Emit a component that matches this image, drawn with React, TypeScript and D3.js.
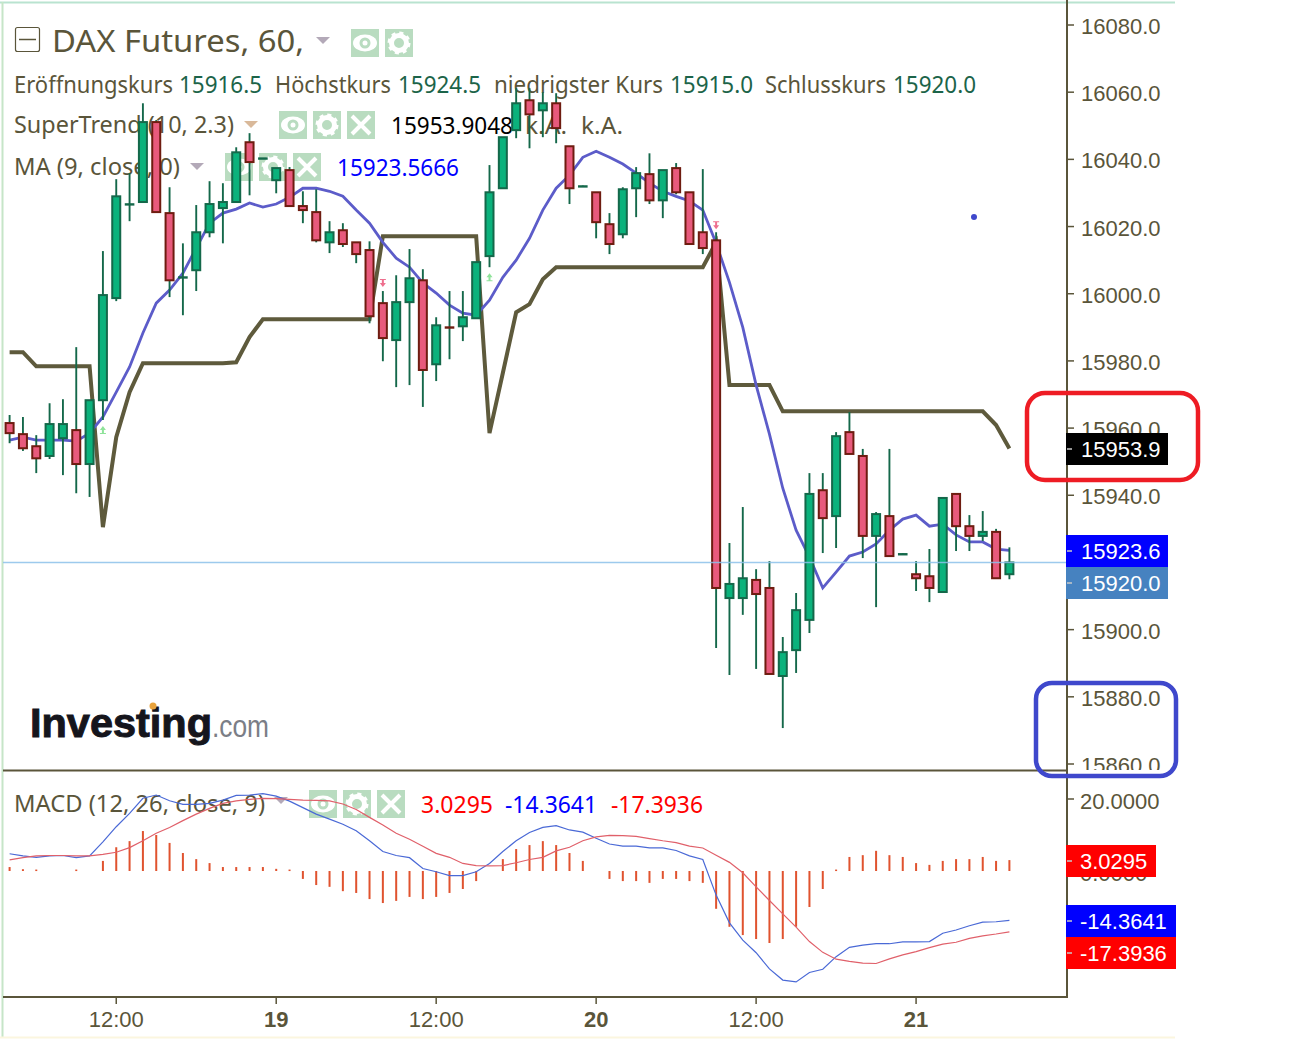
import React, { useEffect, useRef } from "react";
import * as d3 from "d3";

const WIDTH = 1301;
const HEIGHT = 1039;

const open = [15961.5, 15958.2, 15954.6, 15951.7, 15957.0, 15959.4, 15949.3, 15968.3, 15998.7, 16026.5, 16027.3, 16051.1, 16024.0, 16004.6, 16007.0, 16018.3, 16025.5, 16027.3, 16045.1, 16040.2, 16033.8, 16036.8, 16026.1, 16024.3, 16015.3, 16018.9, 16015.3, 16013.0, 15997.2, 15986.2, 15997.5, 16004.0, 15979.0, 15990.3, 15990.3, 15992.7, 16011.2, 16031.4, 16048.7, 16057.6, 16054.6, 16056.7, 16043.9, 16031.8, 16030.2, 16020.7, 16017.7, 16031.4, 16035.6, 16027.8, 16037.4, 16030.2, 16018.3, 16015.9, 15909.4, 15909.4, 15914.8, 15912.4, 15886.2, 15893.9, 15902.9, 15941.5, 15933.8, 15958.8, 15951.7, 15927.9, 15933.8, 15922.3, 15916.5, 15915.9, 15911.2, 15940.4, 15930.8, 15927.9, 15929.1, 15916.5];
const high = [15963.9, 15963.3, 15957.9, 15967.4, 15968.6, 15984.1, 15968.3, 16012.7, 16034.1, 16035.9, 16056.7, 16051.7, 16031.7, 16015.0, 16026.4, 16033.5, 16032.9, 16043.6, 16047.8, 16040.4, 16037.4, 16037.7, 16030.5, 16031.1, 16021.6, 16021.0, 16015.3, 16015.6, 16000.8, 16005.5, 16013.3, 16007.3, 15993.0, 16000.8, 16000.8, 16009.4, 16038.3, 16046.6, 16061.2, 16061.2, 16060.0, 16059.7, 16043.9, 16032.2, 16030.2, 16024.0, 16031.7, 16037.7, 16041.8, 16036.8, 16038.9, 16030.2, 16037.1, 16018.3, 15925.8, 15936.5, 15918.0, 15920.4, 15897.8, 15910.9, 15946.6, 15946.6, 15958.8, 15964.8, 15953.8, 15935.0, 15953.8, 15922.7, 15920.4, 15924.0, 15939.2, 15940.4, 15934.1, 15935.3, 15930.0, 15924.5];
const low = [15955.5, 15953.2, 15946.6, 15950.8, 15946.0, 15940.6, 15939.5, 15962.4, 15997.8, 16021.6, 16027.3, 16024.3, 15999.0, 15993.6, 16000.8, 16016.8, 16015.0, 16027.3, 16029.3, 16040.2, 16029.9, 16026.1, 16021.0, 16015.3, 16012.1, 16013.9, 16009.1, 15991.2, 15979.9, 15972.2, 15972.8, 15966.3, 15974.0, 15980.5, 15985.9, 15992.7, 16007.9, 16031.4, 16046.3, 16043.3, 16046.6, 16044.8, 16026.7, 16031.8, 16016.5, 16011.8, 16016.5, 16022.8, 16026.7, 16022.5, 16029.6, 16014.8, 16011.8, 15894.5, 15886.5, 15904.4, 15888.3, 15886.8, 15870.7, 15887.1, 15899.0, 15922.8, 15924.3, 15952.3, 15921.3, 15906.7, 15921.9, 15922.3, 15911.5, 15908.2, 15911.2, 15923.4, 15923.4, 15926.4, 15915.3, 15915.0];
const close = [15958.5, 15954.0, 15951.0, 15961.2, 15961.2, 15949.3, 15968.3, 15999.6, 16029.0, 16026.8, 16051.1, 16024.3, 16004.0, 16005.2, 16018.3, 16026.7, 16027.3, 16042.1, 16039.2, 16040.4, 16037.4, 16026.1, 16024.9, 16015.9, 16018.3, 16014.8, 16011.8, 15993.3, 15986.8, 15997.5, 16004.6, 15977.3, 15990.6, 15989.7, 15993.0, 16009.4, 16030.2, 16046.6, 16056.7, 16053.4, 16056.7, 16049.3, 16031.4, 16032.2, 16021.3, 16014.8, 16031.1, 16035.9, 16027.8, 16036.8, 16030.2, 16014.8, 16013.6, 15912.4, 15913.6, 15915.3, 15910.6, 15886.8, 15893.3, 15905.8, 15940.4, 15933.2, 15957.6, 15952.3, 15927.9, 15934.4, 15921.9, 15922.7, 15915.3, 15912.4, 15939.2, 15930.8, 15927.9, 15929.1, 15915.3, 15920.0];

const maValues = [15956.4, 15957.3, 15956.4, 15956.4, 15956.4, 15956.1, 15958.5, 15963.3, 15970.7, 15978.2, 15988.3, 15997.2, 16001.1, 16006.1, 16013.6, 16021.0, 16024.0, 16025.2, 16027.0, 16025.8, 16026.7, 16028.7, 16031.4, 16031.4, 16030.5, 16029.0, 16024.9, 16021.0, 16015.3, 16010.6, 16007.9, 16003.2, 16000.2, 15996.6, 15994.2, 15993.6, 15998.1, 16004.9, 16010.0, 16016.5, 16024.9, 16031.4, 16035.3, 16040.6, 16042.4, 16040.6, 16038.6, 16035.9, 16032.9, 16030.5, 16029.0, 16027.6, 16024.9, 16015.0, 16003.4, 15990.0, 15972.8, 15958.2, 15942.1, 15929.6, 15921.6, 15912.4, 15917.1, 15921.9, 15923.1, 15925.5, 15929.6, 15932.9, 15934.1, 15930.8, 15931.4, 15928.2, 15926.1, 15926.1, 15924.0, 15923.6];

const superTrend = [15982.6, 15982.6, 15978.4, 15978.4, 15978.4, 15978.4, 15978.4, 15930.5, 15957.3, 15970.7, 15979.3, 15979.3, 15979.3, 15979.3, 15979.3, 15979.3, 15979.3, 15979.6, 15987.1, 15992.4, 15992.4, 15992.4, 15992.4, 15992.4, 15992.4, 15992.4, 15992.4, 15992.4, 16017.1, 16017.1, 16017.1, 16017.1, 16017.1, 16017.1, 16017.1, 16017.1, 15958.5, 15976.4, 15994.5, 15996.9, 16004.3, 16007.9, 16007.9, 16007.9, 16007.9, 16007.9, 16007.9, 16007.9, 16007.9, 16007.9, 16007.9, 16007.9, 16007.9, 16015.3, 15972.8, 15972.8, 15972.8, 15972.8, 15965.0, 15965.0, 15965.0, 15965.0, 15965.0, 15965.0, 15965.0, 15965.0, 15965.0, 15965.0, 15965.0, 15965.0, 15965.0, 15965.0, 15965.0, 15965.0, 15960.9, 15953.9];

const macdLine = [4.8, 4.2, 3.8, 4.2, 4.3, 3.7, 4.2, 8.1, 12.3, 16.0, 20.2, 21.1, 19.5, 18.5, 18.5, 18.8, 19.7, 21.0, 21.1, 21.5, 20.8, 19.4, 17.6, 15.8, 14.4, 13.0, 11.2, 8.4, 5.4, 4.3, 3.7, 0.7, -0.2, -1.3, -1.3, -0.2, 2.1, 5.4, 8.4, 10.7, 12.1, 12.6, 11.4, 10.8, 9.1, 7.5, 6.9, 6.9, 6.4, 6.4, 5.7, 4.2, 3.2, -6.7, -14.4, -19.2, -22.7, -27.2, -30.3, -30.8, -28.2, -27.3, -23.8, -21.2, -20.6, -20.2, -20.2, -19.7, -19.7, -19.6, -17.3, -16.4, -15.2, -14.2, -14.1, -13.7];
const signalLine = [3.1, 3.7, 4.2, 4.3, 4.3, 4.2, 4.2, 4.6, 5.2, 6.5, 8.4, 10.5, 12.1, 14.0, 15.8, 17.4, 18.8, 19.5, 19.9, 20.2, 20.1, 19.9, 19.7, 19.6, 19.5, 18.6, 17.1, 14.9, 12.8, 10.5, 8.8, 6.9, 4.9, 3.8, 2.1, 1.5, 1.4, 1.5, 2.3, 3.2, 3.8, 5.6, 6.6, 8.4, 9.5, 9.9, 9.8, 9.6, 9.0, 8.4, 7.9, 6.9, 6.4, 4.4, 2.4, -0.5, -4.4, -8.2, -11.9, -15.6, -19.6, -22.6, -24.5, -25.1, -25.6, -25.7, -24.4, -23.3, -22.4, -21.3, -20.3, -19.8, -18.7, -18.0, -17.5, -16.9];
const histogram = [1.1, 0.5, 0.4, 0, 0, 0.4, 0, 2.8, 6.6, 8.3, 11.1, 10.0, 7.8, 5.0, 3.3, 2.2, 1.1, 1.1, 1.1, 1.1, 0.6, 0.4, -2.2, -3.9, -4.4, -5.6, -6.1, -7.8, -8.9, -8.3, -7.2, -7.8, -7.2, -6.1, -5.0, -2.8, 0, 3.3, 6.1, 7.2, 8.3, 7.2, 5.0, 2.8, 0, -2.2, -2.8, -2.8, -3.3, -2.2, -2.2, -2.8, -3.3, -10.5, -15.5, -17.8, -18.9, -20.0, -18.9, -15.5, -10.0, -5.0, 0.4, 3.9, 4.4, 5.6, 4.4, 3.9, 2.2, 1.7, 2.8, 3.3, 3.3, 3.9, 2.8, 3.03];

const buySignals = [[7, 15959.4], [36, 16004.9]];
const sellSignals = [[28, 16003.2], [53, 16020.4]];

const priceTicks = [16080, 16060, 16040, 16020, 16000, 15980, 15960, 15940, 15900, 15880, 15860];
const macdTicks = [20, 0, -20];
const timeTicks = [8, 20, 32, 44, 56, 68];
const timeLabels = ["12:00", "19", "12:00", "20", "12:00", "21"];
const boldLabels = ["19", "20", "21"];

const INK = "#5a553a";
const VALUE = "#1c6449";
const UP = "#0bb27c";
const UP_DARK = "#14684a";
const DOWN = "#e85a7c";
const DOWN_DARK = "#6e1c10";
const ICON_BG = "#b9dcc0";
const SANS = "'Noto Sans', sans-serif";
const ARIAL = "'Liberation Sans', Arial, sans-serif";

type Sel = d3.Selection<any, any, any, any>;

function label(g: Sel, text: string, x: number, y: number, size: number, fill: string, width?: number, font = SANS) {
  const t = g.append("text").attr("x", x).attr("y", y).attr("font-family", font).attr("font-size", size).attr("fill", fill).text(text);
  if (width) t.attr("textLength", width).attr("lengthAdjust", "spacingAndGlyphs");
  return t;
}

function icon(g: Sel, kind: "eye" | "gear" | "x", x: number, y: number) {
  const c = g.append("g").attr("transform", `translate(${x},${y})`);
  c.append("rect").attr("width", 28).attr("height", 28).attr("fill", ICON_BG);
  if (kind === "eye") {
    c.append("ellipse").attr("cx", 14).attr("cy", 14).attr("rx", 12).attr("ry", 8.5).attr("fill", "#fff");
    c.append("circle").attr("cx", 14).attr("cy", 14).attr("r", 5.5).attr("fill", ICON_BG);
    c.append("circle").attr("cx", 14).attr("cy", 14).attr("r", 2.5).attr("fill", "#fff");
  } else if (kind === "gear") {
    c.append("circle").attr("cx", 14).attr("cy", 14).attr("r", 7.5).attr("fill", "none").attr("stroke", "#fff").attr("stroke-width", 5);
    c.append("circle").attr("cx", 14).attr("cy", 14).attr("r", 10).attr("fill", "none").attr("stroke", "#fff").attr("stroke-width", 3).attr("stroke-dasharray", "4 3.85");
  } else {
    c.append("path").attr("d", "M5,5L23,23M23,5L5,23").attr("stroke", "#fff").attr("stroke-width", 4);
  }
}

function triangle(g: Sel, x: number, y: number, fill: string) {
  g.append("path").attr("d", `M${x},${y}h14l-7,7z`).attr("fill", fill);
}

const App: React.FC = () => {
  const svgRef = useRef<SVGSVGElement | null>(null);

  useEffect(() => {
    const svgElement = svgRef.current;
    if (!svgElement) return;

    const svg = d3.select(svgElement);
    svg.selectAll("*").remove();

    const x = d3.scaleLinear().domain([0, 75]).range([9.6, 1009.4]);
    const y = d3.scaleLinear().domain([16080, 15860]).range([25, 764]);
    const yMacd = d3.scaleLinear().domain([20, -20]).range([799, 943]);

    svg.append("rect").attr("width", WIDTH).attr("height", HEIGHT).attr("fill", "#fff");
    svg.append("path").attr("d", "M0,2.5H1175").attr("stroke", "#b9e3d0").attr("stroke-width", 2);
    svg.append("path").attr("d", "M2.5,2V1037").attr("stroke", "#c6e5c8").attr("stroke-width", 2);
    svg.append("path").attr("d", "M0,1037.5H1175").attr("stroke", "#fbf6df").attr("stroke-width", 2);

    // legend sits under the candles
    const legend = svg.append("g");
    legend.append("rect").attr("x", 15.5).attr("y", 27.5).attr("width", 24).attr("height", 24).attr("rx", 2).attr("fill", "none").attr("stroke", INK).attr("stroke-width", 1.2);
    legend.append("path").attr("d", "M19,39.5H36").attr("stroke", INK).attr("stroke-width", 1.5);
    label(legend, "DAX Futures, 60,", 52, 52, 31, INK, 252);
    triangle(legend, 316, 37, "#b3a9b8");
    icon(legend, "eye", 351, 29);
    icon(legend, "gear", 385, 29);

    label(legend, "Eröffnungskurs", 14, 93, 23, INK, 159);
    label(legend, "15916.5", 179, 93, 23, VALUE, 83);
    label(legend, "Höchstkurs", 275, 93, 23, INK, 116);
    label(legend, "15924.5", 398, 93, 23, VALUE, 83);
    label(legend, "niedrigster Kurs", 494, 93, 23, INK, 169);
    label(legend, "15915.0", 670, 93, 23, VALUE, 83);
    label(legend, "Schlusskurs", 765, 93, 23, INK, 121);
    label(legend, "15920.0", 893, 93, 23, VALUE, 83);

    label(legend, "SuperTrend (10, 2.3)", 14, 133, 23, INK, 220);
    triangle(legend, 244, 121, "#d9b99a");
    icon(legend, "eye", 279, 111);
    icon(legend, "gear", 313, 111);
    icon(legend, "x", 347, 111);
    label(legend, "15953.9048", 391, 134, 23, "#000", 122);
    label(legend, "k.A.", 525, 134, 23, INK, 42);
    label(legend, "k.A.", 581, 134, 23, INK, 42);

    label(legend, "MA (9, close, 0)", 14, 175, 23, INK, 166);
    triangle(legend, 190, 163, "#b3a9b8");
    icon(legend, "eye", 225, 153);
    icon(legend, "gear", 259, 153);
    icon(legend, "x", 293, 153);
    label(legend, "15923.5666", 337, 176, 23, "#0000ff", 122);

    // logo
    label(legend, "Investing", 30, 737, 41, "#15151c", 182, ARIAL).attr("font-weight", "bold").attr("stroke", "#15151c").attr("stroke-width", 1);
    label(legend, ".com", 212, 737, 32, "#7b7e86", 57, ARIAL);
    legend.append("circle").attr("cx", 153).attr("cy", 706).attr("r", 3.5).attr("fill", "#e8a33d");

    const idx = d3.range(open.length);

    const lineOf = (values: number[], scale: d3.ScaleLinear<number, number>) =>
      d3.line<number>().x((i) => x(i)).y((i) => scale(values[i]))(idx);

    svg.append("path").attr("d", lineOf(superTrend, y)).attr("fill", "none").attr("stroke", "#5e5a3c").attr("stroke-width", 4);
    svg.append("path").attr("d", lineOf(maValues, y)).attr("fill", "none").attr("stroke", "#5c5cc9").attr("stroke-width", 2.8);

    // wicks, then bodies
    const candles = svg.append("g");
    idx.forEach((i) => {
      const isDoji = Math.abs(open[i] - close[i]) < 1;
      const isUp = close[i] >= open[i];
      candles.append("line").attr("x1", x(i)).attr("x2", x(i)).attr("y1", y(high[i])).attr("y2", y(low[i])).attr("stroke", UP_DARK).attr("stroke-width", 1.9);
      if (isDoji) {
        candles.append("rect").attr("x", x(i) - 4.8).attr("width", 9.6).attr("y", y((open[i] + close[i]) / 2) - 1).attr("height", 2.4).attr("fill", isUp ? UP_DARK : DOWN_DARK);
      } else {
        candles.append("rect")
          .attr("x", x(i) - 4)
          .attr("width", 8)
          .attr("y", y(Math.max(open[i], close[i])))
          .attr("height", Math.abs(y(open[i]) - y(close[i])))
          .attr("fill", isUp ? UP : DOWN)
          .attr("stroke", isUp ? UP_DARK : DOWN_DARK)
          .attr("stroke-width", 2);
      }
    });

    buySignals.forEach(([i, p]) => {
      svg.append("path").attr("transform", `translate(${x(i)},${y(p)})`).attr("d", "M0,-4L3,0H1V3H3V4H-3V3H-1V0H-3Z").attr("fill", "#8fe39a");
    });
    sellSignals.forEach(([i, p]) => {
      svg.append("path").attr("transform", `translate(${x(i)},${y(p)})`).attr("d", "M-3,-4H3V-3H1V0H3L0,4L-3,0H-1V-3H-3Z").attr("fill", "#ee6f8e");
    });

    svg.append("line").attr("x1", 3).attr("x2", 1066).attr("y1", y(15920)).attr("y2", y(15920)).attr("stroke", "#8cc1ea").attr("stroke-width", 1.4).attr("opacity", 0.85);
    svg.append("circle").attr("cx", 974).attr("cy", 217).attr("r", 3).attr("fill", "#3f48cc");

    // MACD pane
    label(svg, "MACD (12, 26, close, 9)", 14, 812, 23, INK, 251);
    triangle(svg, 274, 797, "#b3a9b8");
    icon(svg, "eye", 309, 790);
    icon(svg, "gear", 343, 790);
    icon(svg, "x", 377, 790);
    label(svg, "3.0295", 421, 813, 23, "#ff0000", 72);
    label(svg, "-14.3641", 505, 813, 23, "#0000ff", 92);
    label(svg, "-17.3936", 611, 813, 23, "#ff0000", 92);

    svg.append("g").selectAll("rect").data(idx.filter((i) => histogram[i] !== 0)).join("rect")
      .attr("x", (i) => x(i) - 1)
      .attr("width", 2)
      .attr("y", (i) => Math.min(yMacd(histogram[i]), yMacd(0)))
      .attr("height", (i) => Math.max(1.5, Math.abs(yMacd(histogram[i]) - yMacd(0))))
      .attr("fill", "#e0532f");
    svg.append("path").attr("d", lineOf(macdLine, yMacd)).attr("fill", "none").attr("stroke", "#4a69d6").attr("stroke-width", 1.2);
    svg.append("path").attr("d", lineOf(signalLine, yMacd)).attr("fill", "none").attr("stroke", "#e0606a").attr("stroke-width", 1.2);

    // axes
    const axis = svg.append("g").attr("stroke", INK);
    axis.append("path").attr("d", "M1067,0V997H3M3,770.5H1067").attr("fill", "none").attr("stroke-width", 2);

    svg.append("clipPath").attr("id", "price-clip").append("rect").attr("x", 1068).attr("y", 0).attr("width", 200).attr("height", 770);
    const priceAxis = svg.append("g").attr("clip-path", "url(#price-clip)");
    priceTicks.forEach((p) => {
      priceAxis.append("line").attr("x1", 1067).attr("x2", 1074).attr("y1", y(p)).attr("y2", y(p)).attr("stroke", INK).attr("stroke-width", 1.5);
      label(priceAxis, d3.format(".1f")(p), 1081, y(p) + 9, 22, INK, undefined, ARIAL);
    });
    macdTicks.forEach((v) => {
      svg.append("line").attr("x1", 1067).attr("x2", 1074).attr("y1", yMacd(v)).attr("y2", yMacd(v)).attr("stroke", INK).attr("stroke-width", 1.5);
      label(svg, d3.format(".4f")(v), 1080, yMacd(v) + 10, 22, INK, undefined, ARIAL);
    });
    timeTicks.forEach((t, i) => {
      svg.append("line").attr("x1", x(t)).attr("x2", x(t)).attr("y1", 997).attr("y2", 1004).attr("stroke", INK).attr("stroke-width", 1.5);
      label(svg, timeLabels[i], x(t), 1027, 22, INK, undefined, ARIAL)
        .attr("text-anchor", "middle")
        .attr("font-weight", boldLabels.includes(timeLabels[i]) ? "bold" : "normal");
    });

    // value tags on the axis
    const tag = (text: string, top: number, w: number, fill: string, tx: number) => {
      svg.append("rect").attr("x", 1066).attr("y", top).attr("width", w).attr("height", 32).attr("fill", fill);
      svg.append("line").attr("x1", 1067).attr("x2", 1072).attr("y1", top + 16).attr("y2", top + 16).attr("stroke", "#c9c9c9").attr("stroke-width", 1.5);
      label(svg, text, tx, top + 24, 22, "#fff", undefined, ARIAL);
    };
    tag("15953.9", 433, 102, "#000", 1081);
    tag("15923.6", 535, 102, "#0000ff", 1081);
    tag("15920.0", 567, 102, "#4682c0", 1081);
    tag("3.0295", 845, 90, "#ff0000", 1080);
    tag("-14.3641", 905, 110, "#0000ff", 1080);
    tag("-17.3936", 937, 110, "#ff0000", 1080);

    // hand drawn boxes
    svg.append("rect").attr("x", 1027).attr("y", 393).attr("width", 171).attr("height", 87).attr("rx", 18).attr("fill", "none").attr("stroke", "#ee1c24").attr("stroke-width", 4.5);
    svg.append("rect").attr("x", 1036).attr("y", 683).attr("width", 140).attr("height", 93).attr("rx", 16).attr("fill", "none").attr("stroke", "#3f48cc").attr("stroke-width", 4.5);
  }, []);

  return <svg ref={svgRef} width={WIDTH} height={HEIGHT} style={{ position: "absolute", left: 0, top: 0, display: "block" }}></svg>;
};

export default App;
